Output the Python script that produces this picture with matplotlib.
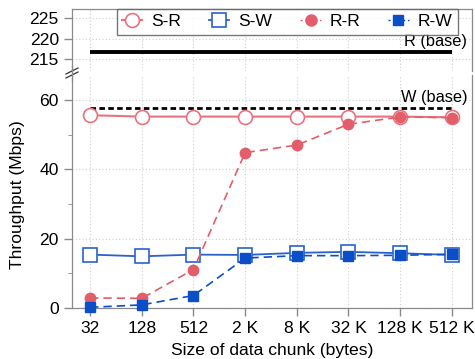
import matplotlib
matplotlib.use("Agg")
import matplotlib.pyplot as plt
from matplotlib.lines import Line2D

plt.rcParams['font.family'] = ['Liberation Sans', 'DejaVu Sans']

categories = ["32", "128", "512", "2 K", "8 K", "32 K", "128 K", "512 K"]
s_r = [55.6, 55.2, 55.2, 55.2, 55.2, 55.2, 55.2, 55.0]
s_w = [15.4, 14.9, 15.4, 15.3, 15.9, 16.2, 15.8, 15.3]
r_r = [2.9, 2.8, 11.1, 44.8, 47.0, 53.0, 55.1, 54.9]
r_w = [0.2, 0.9, 3.6, 14.4, 15.1, 15.1, 15.2, 15.5]
r_base = 216.7
w_base = 57.7

red = '#e35d6a'
red_light = '#e8727e'
blue = '#0a4fc8'
blue_light = '#2a62cc'
grid_c = '#cfcfcf'
spine_c = '#8a8a8a'
FS = 12.6

W, H = 475, 359
fig = plt.figure(figsize=(W / 100, H / 100), dpi=100)
left = 72 / W
width = (472 - 72) / W
ax_top = fig.add_axes([left, (H - 71) / H, width, (71 - 9) / H])
ax = fig.add_axes([left, (H - 308) / H, width, (308 - 75) / H])

x = list(range(len(categories)))

for a in (ax, ax_top):
    a.set_xlim(-0.35, 7.39)
    a.set_xticks(x)
    a.grid(True, linestyle=(0, (1, 2)), color=grid_c, linewidth=0.8)
    a.set_axisbelow(True)
    for s in a.spines.values():
        s.set_color(spine_c)
        s.set_linewidth(0.9)
    a.tick_params(axis='both', colors=spine_c, labelcolor='black', labelsize=FS,
                  length=6, width=1)
    a.tick_params(axis='y', which='minor', length=3, colors=spine_c)

ax_top.set_ylim(212.1, 227.2)
ax_top.set_yticks([215, 220, 225])
ax_top.spines['bottom'].set_visible(False)
ax_top.tick_params(axis='x', bottom=False, labelbottom=False)

ax.set_ylim(0, 67.2)
ax.set_yticks([0, 20, 40, 60])
ax.set_yticks([10, 30, 50], minor=True)
ax.spines['top'].set_visible(False)
ax.set_xticklabels(categories)
ax.set_xlabel('Size of data chunk (bytes)', fontsize=FS, labelpad=5)
ax.set_ylabel('Throughput (Mbps)', fontsize=FS)
ax.yaxis.set_label_coords(-0.118, 0.485)

# baselines
ax_top.plot([0, 7], [r_base, r_base], color='black', linewidth=2.8, solid_capstyle='butt')
ax_top.text(7.3, r_base + 0.8, 'R (base)', ha='right', va='bottom', fontsize=11.8)
ax.plot([0, 7], [w_base, w_base], color='black', linewidth=2, linestyle=(0, (2, 1.2)))
ax.text(7.3, w_base + 0.9, 'W (base)', ha='right', va='bottom', fontsize=11.8)

# series
ax.plot(x, s_r, color=red_light, linewidth=1.5, marker='o', markersize=10,
        markerfacecolor='white', markeredgecolor=red_light, markeredgewidth=1.2,
        label='S-R', zorder=3)
ax.plot(x, s_w, color=blue_light, linewidth=1.3, marker='s', markersize=10,
        markerfacecolor='white', markeredgecolor=blue_light, markeredgewidth=1.2,
        label='S-W', zorder=3)
ax.plot(x, r_r, color=red, linewidth=1.2, linestyle=(0, (5, 3)), marker='o',
        markersize=7.5, markerfacecolor=red, markeredgecolor=red,
        label='R-R', zorder=4)
ax.plot(x, r_w, color=blue, linewidth=1.2, linestyle=(0, (5, 3)), marker='s',
        markersize=7, markerfacecolor=blue, markeredgecolor=blue,
        label='R-W', zorder=4)

for ln in ax.get_lines():
    ln.set_clip_on(False)

# legend
handles = [
    Line2D([], [], color=red_light, linewidth=1.5, marker='o', markersize=10,
           markerfacecolor='white', markeredgecolor=red_light, markeredgewidth=1.2),
    Line2D([], [], color=blue_light, linewidth=1.3, marker='s', markersize=10,
           markerfacecolor='white', markeredgecolor=blue_light, markeredgewidth=1.2),
    Line2D([], [], color=red, linewidth=1.0, linestyle=(0, (1.5, 2)), marker='o',
           markersize=8, markerfacecolor=red, markeredgecolor=red),
    Line2D([], [], color=blue, linewidth=1.0, linestyle=(0, (1.5, 2)), marker='s',
           markersize=7.5, markerfacecolor=blue, markeredgecolor=blue),
]
leg = fig.legend(handles, ['S-R', 'S-W', 'R-R', 'R-W'], ncol=4,
                 loc='upper left', bbox_to_anchor=(117 / W, (H - 9) / H),
                 fontsize=FS, frameon=True, fancybox=False,
                 handlelength=1.15, handletextpad=0.52, columnspacing=1.6,
                 borderpad=0.3, borderaxespad=0)
leg.get_frame().set_edgecolor('#555555')
leg.get_frame().set_linewidth(1.0)

# break marks
bx = left
by = (H - 73) / H
dx = 6 / W
dy = 3 / H
for off in (-2.0 / H, 2.0 / H):
    fig.add_artist(Line2D([bx - dx, bx + dx], [by - dy + off, by + dy + off],
                          color='#333333', linewidth=0.9, transform=fig.transFigure))
fig.add_artist(Line2D([bx, bx], [by - 8 / H, by + 8 / H], color=spine_c,
                      linewidth=0.9, transform=fig.transFigure))

fig.savefig('out.png', dpi=100)
